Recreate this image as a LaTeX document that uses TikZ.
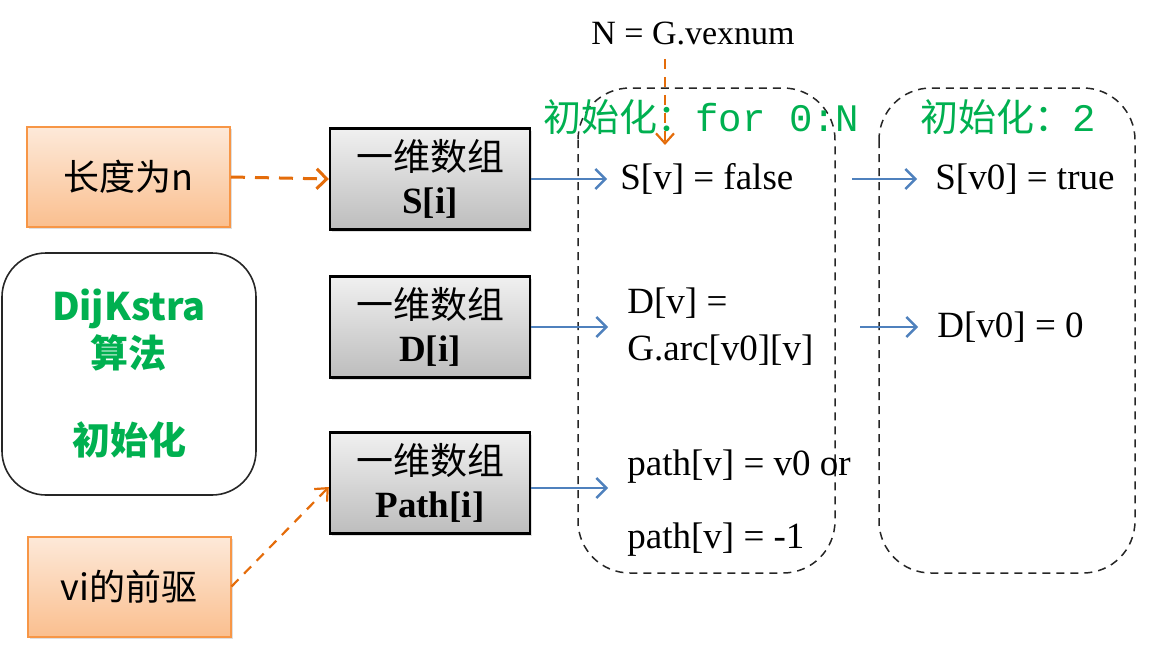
\documentclass[tikz,border=0pt]{standalone}
\usepackage{fontspec}
\setmainfont{Liberation Serif}
\setmonofont{Liberation Mono}
\newfontfamily\cjk{Noto Sans CJK SC}
\usetikzlibrary{arrows.meta,shadows}
\definecolor{orgline}{HTML}{F79646}
\definecolor{orgarrow}{HTML}{E46C0A}
\definecolor{orgtop}{HTML}{FDE9D9}
\definecolor{orgbot}{HTML}{FABF8F}
\definecolor{graytop}{HTML}{F0F0F0}
\definecolor{graybot}{HTML}{BDBDBD}
\definecolor{bluearrow}{HTML}{4F81BD}
\definecolor{grn}{HTML}{00B050}
\begin{document}
\begin{tikzpicture}[x=0.5pt,y=-0.5pt,
  softshadow/.style={drop shadow={opacity=0.25,shadow xshift=1.2pt,shadow yshift=-1.2pt}},
  orgbox/.style={draw=orgline, line width=1pt, top color=orgtop, bottom color=orgbot,
    minimum width=101.5pt, minimum height=50pt, inner sep=0pt,
    font=\cjk\fontsize{18}{22}\selectfont, softshadow},
  arrbox/.style={draw=black, line width=1.2pt, top color=graytop, bottom color=graybot,
    minimum width=100pt, minimum height=50.5pt, inner sep=0pt, align=center,
    font=\fontsize{18.5}{21.5}\selectfont, softshadow},
  val/.style={anchor=west, inner sep=0pt, font=\fontsize{18.5}{23.5}\selectfont},
  greenlab/.style={anchor=west, inner sep=0pt, text=grn, font=\cjk\fontsize{19}{22}\selectfont},
  dashbox/.style={draw=black!85, line width=0.75pt, dash pattern=on 4pt off 3pt, rounded corners=26pt},
  orgdash/.style={draw=orgarrow, line width=1.5pt, dash pattern=on 7pt off 5pt,
    -{Straight Barb[length=5pt,width=10pt,line width=1.5pt]}},
  orgthin/.style={draw=orgarrow, line width=1.1pt, dash pattern=on 5pt off 4pt,
    -{Straight Barb[length=5pt,width=9pt,line width=1.1pt]}},
  bluearr/.style={draw=bluearrow, line width=1.2pt,
    -{Straight Barb[length=5pt,width=10pt,line width=1.2pt]}}
]
\useasboundingbox (0,0) rectangle (1168,648);

% left boxes
\node[orgbox] (len) at (128.5,177) {长度为n};
\node[orgbox] (vi) at (129,586.5) {vi的前驱};
\node[draw=black!85, line width=0.8pt, rounded corners=22pt, minimum width=127pt,
      minimum height=121pt, align=center, text=grn,
      font=\cjk\bfseries\fontsize{19}{23.5}\selectfont] (algo) at (129,374)
      {DijKstra\\算法\\[20pt]初始化};

% array boxes
\node[arrbox] (Sbox) at (430,179) {{\cjk 一维数组}\\\textbf{S[i]}};
\node[arrbox] (Dbox) at (430,327) {{\cjk 一维数组}\\\textbf{D[i]}};
\node[arrbox] (Pbox) at (430,483) {{\cjk 一维数组}\\\textbf{Path[i]}};

% dashed groups
\draw[dashbox] (578,88) rectangle (835,573);
\draw[dashbox] (879,88) rectangle (1135,573);

% labels
\node[inner sep=0pt, font=\fontsize{17}{20}\selectfont] (N) at (693,33) {N = G.vexnum};
\node[greenlab] (lab1) at (543,117) {初始化：{\ttfamily\fontsize{19.5}{22}\selectfont for 0:N}};
\node[greenlab] (lab2) at (920,117) {初始化：{\ttfamily\fontsize{19.5}{22}\selectfont 2}};

% values
\node[val] (Sv) at (620,179) {S[v] = false};
\node[val] (Sv0) at (935,179) {S[v0] = true};
\node[val, align=left] (Dv) at (627,327) {D[v] =\\G.arc[v0][v]};
\node[val] (Dv0) at (937,327) {D[v0] = 0};
\node[val] (P1) at (627,467) {path[v] = v0 or};
\node[val] (P2) at (627,540) {path[v] = -1};

% free ends
\coordinate (nend) at (665,145);
\coordinate (pa) at (608,488);
\coordinate (c1) at (852,179);
\coordinate (c2) at (860,327);

% connectors
\draw[orgdash] (len.east) -- (Sbox.west);
\draw[orgthin] (vi.east) -- ([yshift=-2pt]Pbox.west);
\draw[orgthin, shorten <=7pt] (nend |- N.south) -- (nend);

\draw[bluearr] (Sbox.east) -- ([xshift=-6.5pt]Sv.west);
\draw[bluearr] (c1) -- ([xshift=-9pt]Sv0.west);
\draw[bluearr] (Dbox.east) -- ([xshift=-9.5pt]Dv.west);
\draw[bluearr] (c2) -- ([xshift=-9.5pt]Dv0.west);
\draw[bluearr] (Pbox.east |- pa) -- (pa);
\end{tikzpicture}
\end{document}
